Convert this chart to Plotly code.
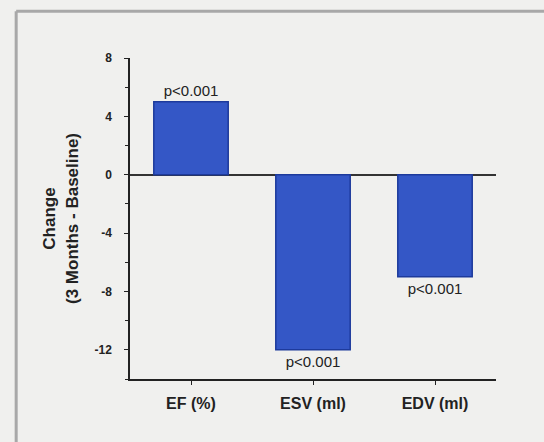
import plotly.graph_objects as go

# Change from baseline to 3 months
categories = ["EF (%)", "ESV (ml)", "EDV (ml)"]
changes = [5, -12, -7]
p_labels = ["p<0.001", "p<0.001", "p<0.001"]
y_ticks = [-12, -8, -4, 0, 4, 8]

bar_fill = "#3457c6"
bar_edge = "#1d3a9c"
bg = "#f0f0ee"
font_family = "Liberation Sans, Arial, sans-serif"

fig = go.Figure()
fig.add_trace(go.Bar(
    x=categories,
    y=changes,
    width=0.61,
    marker=dict(color=bar_fill, line=dict(color=bar_edge, width=1.5)),
    text=p_labels,
    textposition="outside",
    textfont=dict(family=font_family, size=15, color="#222"),
    cliponaxis=False,
))

fig.update_layout(
    width=544,
    height=442,
    margin=dict(l=130, r=48, t=58, b=63),
    paper_bgcolor=bg,
    plot_bgcolor=bg,
    showlegend=False,
    font=dict(family=font_family, color="#222"),
    xaxis=dict(
        range=[-0.5, 2.5],
        showline=True, linecolor="#222", linewidth=1.5,
        ticks="outside", ticklen=4, tickcolor="#222",
        ticklabelstandoff=5,
        tickfont=dict(size=16, weight="bold"),
        showgrid=False,
    ),
    yaxis=dict(
        range=[-14, 8],
        tickvals=y_ticks,
        ticktext=[str(v) for v in y_ticks],
        showline=True, linecolor="#222", linewidth=1.5,
        ticks="outside", ticklen=4, tickcolor="#222",
        ticklabelstandoff=10,
        minor=dict(dtick=2, ticks="outside", ticklen=3, tickcolor="#222"),
        tickfont=dict(size=12, weight="bold"),
        showgrid=False,
        zeroline=True, zerolinecolor="#333", zerolinewidth=1.5,
        title=dict(text="Change<br>(3 Months - Baseline)",
                   font=dict(size=17, weight="bold"), standoff=12),
    ),
    shapes=[
        # outer frame
        dict(type="line", xref="paper", yref="paper",
             x0=-0.311, x1=1.2, y0=1.146, y1=1.146,
             line=dict(color="#a8a8a8", width=3)),
        dict(type="line", xref="paper", yref="paper",
             x0=-0.311, x1=-0.311, y0=1.146, y1=-0.3,
             line=dict(color="#a8a8a8", width=3)),
    ],
)

fig.write_html("out.html")
